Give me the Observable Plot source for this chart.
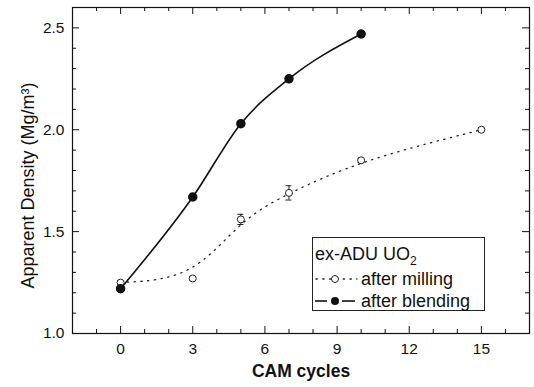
<!DOCTYPE html>
<html>
<head>
<meta charset="utf-8">
<script src="https://cdn.jsdelivr.net/npm/d3@7"></script>
<script src="https://cdn.jsdelivr.net/npm/@observablehq/plot@0.6"></script>
<style>
  html, body { margin: 0; padding: 0; background: #fff; }
  #wrap { position: relative; width: 534px; height: 387px; font-family: "Liberation Sans", Arial, sans-serif; }
  #legend { position: absolute; left: 312px; top: 237px; width: 173px; height: 74px; border: 1px solid #222; box-sizing: border-box; background: #fff; }
  #legend .t { position: absolute; left: 48px; font-size: 18px; line-height: 18px; color: #111; white-space: nowrap; }
  #legend .h { position: absolute; left: 2px; top: 7px; font-size: 18px; line-height: 18px; color: #111; white-space: nowrap; }
  #legend svg { position: absolute; left: 0; top: 0; }
</style>
</head>
<body>
<div id="wrap"></div>
<script>
// Data
const cycles = [0, 3, 5, 7, 10, 15];
const milling = [1.25, 1.27, 1.56, 1.69, 1.85, 2.00];
const millingErr = [0.01, 0.01, 0.025, 0.035, 0.01, 0.01];
const blendCycles = [0, 3, 5, 7, 10];
const blending = [1.22, 1.67, 2.03, 2.25, 2.47];
const xTicks = [0, 3, 6, 9, 12, 15];
const yTicks = [1.0, 1.5, 2.0, 2.5];

const mill = cycles.map((c, i) => ({x: c, y: milling[i], e: millingErr[i]}));
const blend = blendCycles.map((c, i) => ({x: c, y: blending[i]}));

const W = 534, H = 387, mL = 72, mR = 5, mT = 7, mB = 54;
const pw = W - mL - mR, ph = H - mT - mB;

const xMajor = xTicks;
const xMinor = d3.range(-1, 17, 1).filter(v => !xMajor.includes(v));
const yMajor = yTicks;
const yMinor = d3.range(11, 26, 1).map(v => v / 10).filter(v => !yMajor.some(m => Math.abs(m - v) < 1e-9));

const plot = Plot.plot({
  width: W, height: H,
  marginLeft: mL, marginRight: mR, marginTop: mT, marginBottom: mB,
  style: {fontFamily: "Liberation Sans, Arial, sans-serif", background: "white", color: "#111"},
  x: {domain: [-2, 17]},
  y: {domain: [1.0, 2.6]},
  marks: [
    // inward ticks
    Plot.ruleX(xMajor, {x: d => d, insetTop: ph - 7, stroke: "#111"}),
    Plot.ruleX(xMajor, {x: d => d, insetBottom: ph - 7, stroke: "#111"}),
    Plot.ruleX(xMinor, {x: d => d, insetTop: ph - 4, stroke: "#111"}),
    Plot.ruleX(xMinor, {x: d => d, insetBottom: ph - 4, stroke: "#111"}),
    Plot.ruleY(yMajor, {y: d => d, insetRight: pw - 7, stroke: "#111"}),
    Plot.ruleY(yMajor, {y: d => d, insetLeft: pw - 7, stroke: "#111"}),
    Plot.ruleY(yMinor, {y: d => d, insetRight: pw - 4, stroke: "#111"}),
    Plot.ruleY(yMinor, {y: d => d, insetLeft: pw - 4, stroke: "#111"}),
    Plot.axisX({ticks: xTicks, tickSize: 0, tickPadding: 9, fontSize: 15.5, label: null}),
    Plot.axisY({ticks: yTicks, tickSize: 0, tickPadding: 8, fontSize: 15.5, tickFormat: ".1f", label: null}),
    // curves
    Plot.line(mill, {x: "x", y: "y", curve: "basis", stroke: "#222", strokeWidth: 1.3, strokeDasharray: "1.3 5.5", strokeLinecap: "round"}),
    Plot.line(blend, {x: "x", y: "y", curve: "monotone-x", stroke: "#111", strokeWidth: 1.6}),
    // error bars
    Plot.ruleX(mill, {x: "x", y1: d => d.y - d.e, y2: d => d.y + d.e, stroke: "#222", strokeWidth: 1}),
    Plot.ruleY(mill, {y: d => d.y + d.e, x1: "x", x2: "x", insetLeft: -3, insetRight: -3, stroke: "#222", strokeWidth: 1}),
    Plot.ruleY(mill, {y: d => d.y - d.e, x1: "x", x2: "x", insetLeft: -3, insetRight: -3, stroke: "#222", strokeWidth: 1}),
    // points
    Plot.dot(mill, {x: "x", y: "y", r: 3.5, fill: "white", stroke: "#222", strokeWidth: 1}),
    Plot.dot(blend, {x: "x", y: "y", r: 4, fill: "#111", stroke: "#111"}),
    Plot.frame({stroke: "#111", strokeWidth: 1.2}),
    // titles
    Plot.text(["CAM cycles"], {frameAnchor: "bottom", dy: 43, fontSize: 17.5, fontWeight: "bold", fill: "#111"}),
    Plot.text(["Apparent Density (Mg/m³)"], {frameAnchor: "left", textAnchor: "middle", dx: -44, dy: 15, rotate: -90, fontSize: 18, fill: "#111"})
  ]
});
document.getElementById("wrap").appendChild(plot);

// legend
const lg = document.createElement("div");
lg.id = "legend";
lg.innerHTML = `
  <svg width="173" height="74">
    <line x1="3" y1="41" x2="44" y2="41" stroke="#222" stroke-width="1.3" stroke-dasharray="1.3 5.5" stroke-linecap="round"/>
    <circle cx="22" cy="41" r="3.5" fill="white" stroke="#222"/>
    <line x1="2" y1="63" x2="14" y2="63" stroke="#111" stroke-width="1.6"/>
    <line x1="29" y1="63" x2="42" y2="63" stroke="#111" stroke-width="1.6"/>
    <circle cx="22" cy="63" r="4" fill="#111"/>
  </svg>
  <div class="h">ex-ADU UO<sub style="font-size:12px;vertical-align:-5px">2</sub></div>
  <div class="t" style="top:32px">after milling</div>
  <div class="t" style="top:54px">after blending</div>
`;
document.getElementById("wrap").appendChild(lg);
</script>
</body>
</html>
